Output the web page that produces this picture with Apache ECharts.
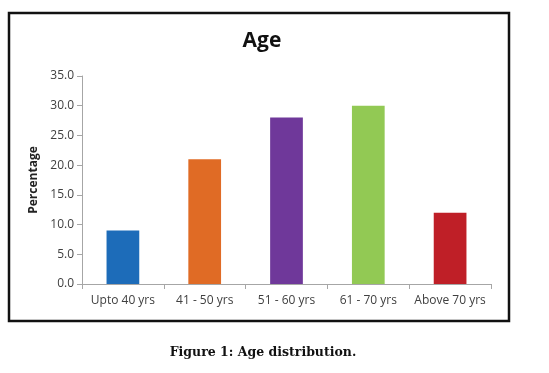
<!DOCTYPE html>
<html><head><meta charset="utf-8">
<script src="https://cdn.jsdelivr.net/npm/echarts@6/dist/echarts.min.js"></script>
<style>html,body{margin:0;padding:0;background:#fff}#c{width:549px;height:373px}</style>
</head><body><div id="c"></div>
<script>
const categories = ["Upto 40 yrs", "41 - 50 yrs", "51 - 60 yrs", "61 - 70 yrs", "Above 70 yrs"];
const values = [9, 21, 28, 30, 12];
const barColors = ["#1d6cb9", "#e06b25", "#6f389a", "#92c954", "#bf1f27"];
const chartTitle = "Age";
const yAxisName = "Percentage";
const caption = "Figure 1: Age distribution.";

const chart = echarts.init(document.getElementById('c'), null, {renderer: 'canvas'});
chart.setOption({
  animation: false,
  backgroundColor: '#fff',
  title: [
    {text: chartTitle, left: 257, top: 26, textAlign: 'center',
     textStyle: {fontFamily: 'Open Sans', fontWeight: 'bold', fontSize: 21, color: '#111'}},
    {text: caption, left: 258, top: 341, textAlign: 'center',
     textStyle: {fontFamily: 'DejaVu Serif', fontWeight: 'bold', fontSize: 12.5, color: '#111'}}
  ],
  graphic: [
    {type: 'rect', shape: {x: 9, y: 13, width: 500, height: 308}, z: -10,
     style: {fill: '#fff', stroke: '#111', lineWidth: 2.5}}
  ],
  grid: {left: 82, right: 58, top: 76, bottom: 89},
  xAxis: {
    type: 'category', data: categories,
    axisLine: {lineStyle: {color: '#a6a6a6'}},
    axisTick: {show: true, alignWithLabel: false, inside: false, length: 5, lineStyle: {color: '#a6a6a6'}},
    axisLabel: {interval: 0, color: '#404040', fontFamily: 'Open Sans', fontSize: 12, margin: 11}
  },
  yAxis: {
    type: 'value', min: 0, max: 35, interval: 5,
    name: yAxisName, nameLocation: 'middle', nameGap: 41,
    nameTextStyle: {fontFamily: 'Open Sans', fontWeight: 'bold', fontSize: 12, color: '#222'},
    axisLine: {show: true, lineStyle: {color: '#a6a6a6'}},
    axisTick: {show: true, length: 5, lineStyle: {color: '#a6a6a6'}},
    splitLine: {show: false},
    axisLabel: {color: '#404040', fontFamily: 'Open Sans', fontSize: 12, margin: 8,
      formatter: v => v.toFixed(1)}
  },
  series: [{
    type: 'bar', barWidth: '40%',
    data: values.map((v, i) => ({value: v, itemStyle: {color: barColors[i]}}))
  }]
});
</script></body></html>
